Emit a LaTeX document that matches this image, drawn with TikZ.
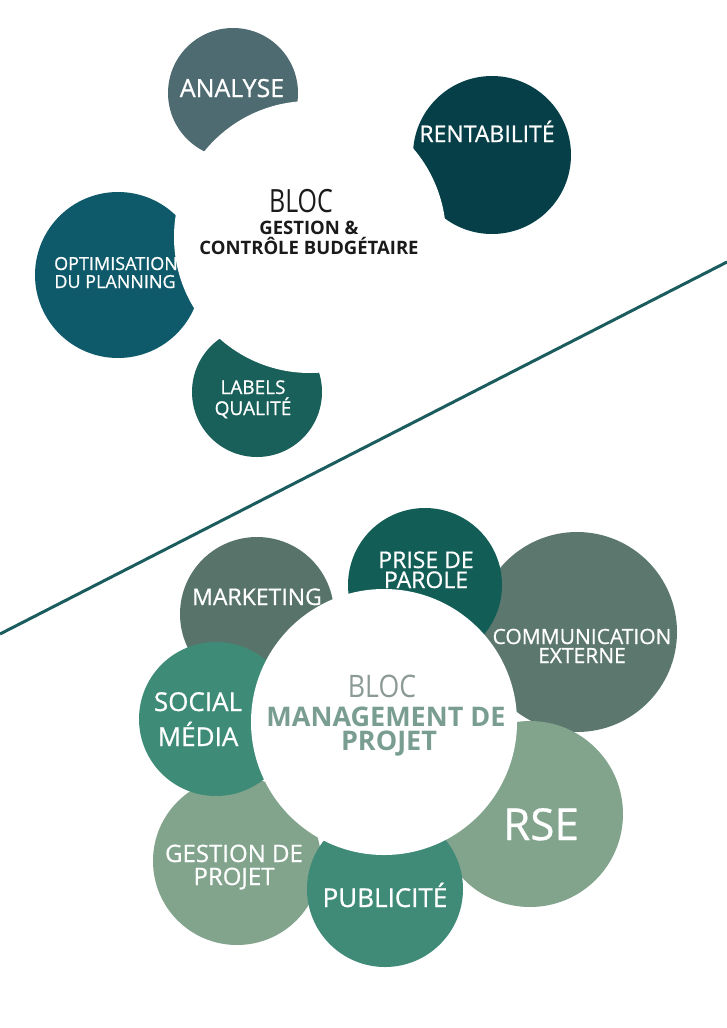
\documentclass[tikz,border=0pt]{standalone}
\usepackage{fontspec}
\setmainfont{Open Sans}
\newfontfamily\semifont{Open Sans}[FakeBold=0.7]
\definecolor{cAnalyse}{HTML}{4F6B72}
\definecolor{cRenta}{HTML}{073F48}
\definecolor{cOptim}{HTML}{0E5A6A}
\definecolor{cLabels}{HTML}{19605A}
\definecolor{cLine}{HTML}{1B5C5E}
\definecolor{cPrise}{HTML}{125E57}
\definecolor{cMarket}{HTML}{58746A}
\definecolor{cComm}{HTML}{5B776E}
\definecolor{cSocial}{HTML}{3E8B77}
\definecolor{cSage}{HTML}{82A48D}
\definecolor{cPub}{HTML}{3F8B78}
\definecolor{cBlocGray}{HTML}{8C9A97}
\definecolor{cBlocBold}{HTML}{7A9D92}
\definecolor{cDark}{HTML}{1A1A1A}
\newcommand\myfs[1]{\fontsize{#1}{#1}\selectfont}
\tikzset{
  lbl/.style={text=white, inner sep=0pt, anchor=base},
  ctr/.style={inner sep=0pt, anchor=base},
}
\begin{document}
\begin{tikzpicture}[x=1pt,y=-1pt]
\fill[white] (0,0) rectangle (727,1028);
\useasboundingbox (0,0) rectangle (727,1028);

% ---------- top block ----------
\fill[cAnalyse] (233,93) circle[radius=65pt];
\fill[cRenta] (492,155) circle[radius=79pt];
\fill[cOptim] (118,275) circle[radius=83pt];
\fill[cLabels] (257,392) circle[radius=65pt];
\fill[white] (310,237) circle[radius=136pt];

\coordinate (lineL) at (0,634);
\coordinate (lineR) at (727,262);
\draw[cLine, line width=3pt] (lineL) -- (lineR);

\node[lbl, font=\semifont\myfs{25}] (analyse) at (232,97) {ANALYSE};
\node[lbl, font=\semifont\myfs{23}] (renta) at (487,142) {RENTABILITÉ};
\node[lbl, font=\semifont\myfs{18}] (optimA) at (116,270) {OPTIMISATION};
\node[lbl, font=\semifont\myfs{18}] (optimB) at (115,288) {DU PLANNING};
\node[lbl, font=\semifont\myfs{19}] (labelsA) at (253,394) {LABELS};
\node[lbl, font=\semifont\myfs{19}] (labelsB) at (253,415) {QUALITÉ};

\node[ctr, text=cDark, font=\myfs{32}] (blocTop) at (301,212) {\scalebox{0.78}[1]{BLOC}};
\node[ctr, text=cDark, font=\bfseries\myfs{18.5}] (gestA) at (309,234) {GESTION \&};
\node[ctr, text=cDark, font=\bfseries\myfs{18.5}] (gestB) at (309,254) {CONTRÔLE BUDGÉTAIRE};

% ---------- bottom block ----------
\fill[cMarket] (257,614) circle[radius=77pt];
\fill[cSage] (237,861) circle[radius=84pt];
\fill[cComm] (577,632) circle[radius=100pt];
\fill[cSage] (530,814) circle[radius=93pt];
\fill[cPub] (385,889) circle[radius=78pt];
\fill[cSocial] (216,719) circle[radius=77pt];
\fill[cPrise] (425,585) circle[radius=77pt];
\fill[white] (384,722) circle[radius=133pt];

\node[lbl, font=\semifont\myfs{23}] (market) at (257,605) {MARKETING};
\node[lbl, font=\semifont\myfs{23}] (priseA) at (426,568) {PRISE DE};
\node[lbl, font=\semifont\myfs{23}] (priseB) at (426,588) {PAROLE};
\node[lbl, font=\semifont\myfs{21}] (commA) at (582,644) {COMMUNICATION};
\node[lbl, font=\semifont\myfs{21}] (commB) at (582,663) {EXTERNE};
\node[lbl, font=\semifont\myfs{26}] (socialA) at (198,711) {SOCIAL};
\node[lbl, font=\semifont\myfs{26}] (socialB) at (198,746) {MÉDIA};
\node[lbl, font=\semifont\myfs{24}] (gprojA) at (234,862) {GESTION DE};
\node[lbl, font=\semifont\myfs{24}] (gprojB) at (234,885) {PROJET};
\node[lbl, font=\semifont\myfs{26}] (pub) at (385,907) {PUBLICITÉ};
\node[lbl, font=\semifont\myfs{44}] (rse) at (541,840) {RSE};

\node[ctr, text=cBlocGray, font=\myfs{31}] (blocBot) at (382,697) {\scalebox{0.86}[1]{BLOC}};
\node[ctr, text=cBlocBold, font=\bfseries\myfs{27}] (mgmtA) at (386,726) {MANAGEMENT DE};
\node[ctr, text=cBlocBold, font=\bfseries\myfs{27}] (mgmtB) at (389,750) {PROJET};
\end{tikzpicture}
\end{document}
